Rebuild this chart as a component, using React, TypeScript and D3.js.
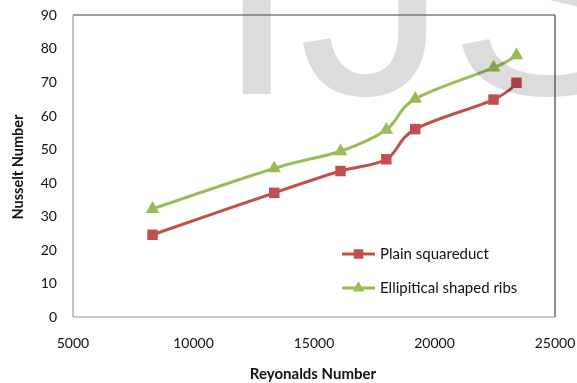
import React from "react";
import * as d3 from "d3";

// Reynolds numbers of the test runs
const reynolds = [8300, 13350, 16100, 18000, 19200, 22450, 23400];
// Nusselt numbers for each configuration
const plainDuct = [24.5, 37, 43.5, 47, 56, 64.8, 69.8];
const ellipticalRibs = [32.2, 44.3, 49.4, 55.8, 65, 74.3, 78];

const xTicks = [5000, 10000, 15000, 20000, 25000];
const yTicks = [0, 10, 20, 30, 40, 50, 60, 70, 80, 90];

const seriesNames = ["Plain squareduct", "Ellipitical shaped ribs"];
const seriesColors = ["#C0504D", "#9BBB59"];

const W = 577;
const H = 383;
const plot = { left: 73, right: 555, top: 15, bottom: 317 };
const font = "Lato, 'Open Sans', sans-serif";

export default function App() {
  const x = d3.scaleLinear().domain([5000, 25000]).range([plot.left, plot.right]);
  const y = d3.scaleLinear().domain([0, 90]).range([plot.bottom, plot.top]);

  const line = d3
    .line<[number, number]>()
    .x((d) => x(d[0]))
    .y((d) => y(d[1]))
    .curve(d3.curveCatmullRom.alpha(0));

  const series = [plainDuct, ellipticalRibs].map((vals) =>
    reynolds.map((r, i) => [r, vals[i]] as [number, number])
  );

  const square = d3.symbol().type(d3.symbolSquare).size(110)();
  const triangle = d3.symbol().type(d3.symbolTriangle).size(80)();
  const markers = [square, triangle];
  const legendMarkers = [
    d3.symbol().type(d3.symbolSquare).size(90)(),
    d3.symbol().type(d3.symbolTriangle).size(60)(),
  ];

  return (
    <svg
      width={W}
      height={H}
      style={{ position: "absolute", left: 0, top: 0, background: "#fff" }}
    >
      {/* watermark */}
      <text
        x={215}
        y={94}
        fontFamily="'Liberation Sans', Arial, sans-serif"
        fontSize={300}
        fill="#dcdcdc"
      >
        IJS
      </text>

      {/* plot frame */}
      <line x1={plot.left} x2={plot.right} y1={plot.top} y2={plot.top} stroke="#404040" strokeWidth={1.2} />
      <line x1={plot.right} x2={plot.right} y1={plot.top} y2={plot.bottom} stroke="#404040" strokeWidth={1.2} />
      <line x1={plot.left} x2={plot.left} y1={plot.top} y2={plot.bottom} stroke="#9a9a9a" strokeWidth={1.2} />
      <line x1={plot.left} x2={plot.right} y1={plot.bottom} y2={plot.bottom} stroke="#9a9a9a" strokeWidth={1.2} />

      {/* y tick labels */}
      {yTicks.map((t) => (
        <text
          key={t}
          x={57}
          y={y(t)}
          dy="0.35em"
          textAnchor="end"
          fontFamily={font}
          fontSize={14}
          fill="#111"
        >
          {t}
        </text>
      ))}

      {/* x tick labels */}
      {xTicks.map((t) => (
        <text
          key={t}
          x={x(t)}
          y={343}
          dy="0.35em"
          textAnchor="middle"
          fontFamily={font}
          fontSize={14}
          fill="#111"
        >
          {t}
        </text>
      ))}

      {/* axis titles */}
      <text
        x={313}
        y={379}
        textAnchor="middle"
        fontFamily={font}
        fontWeight="bold"
        fontSize={15}
        fill="#111"
      >
        Reyonalds Number
      </text>
      <text
        transform="translate(23,167) rotate(-90)"
        textAnchor="middle"
        fontFamily={font}
        fontWeight="bold"
        fontSize={14.5}
        fill="#111"
      >
        Nusselt Number
      </text>

      {/* series */}
      <g style={{ mixBlendMode: "multiply" }}>
        {series.map((pts, si) => (
          <g key={si}>
            <path
              d={line(pts) ?? ""}
              fill="none"
              stroke={seriesColors[si]}
              strokeWidth={3}
              strokeLinejoin="round"
            />
            {pts.map((p, i) => (
              <path
                key={i}
                d={markers[si] ?? ""}
                transform={`translate(${x(p[0])},${y(p[1])})`}
                fill={seriesColors[si]}
              />
            ))}
          </g>
        ))}
      </g>

      {/* legend */}
      {seriesNames.map((name, i) => {
        const ly = 254 + i * 34;
        return (
          <g key={name}>
            <line x1={342} x2={375} y1={ly} y2={ly} stroke={seriesColors[i]} strokeWidth={3} />
            <path
              d={legendMarkers[i] ?? ""}
              transform={`translate(358.5,${ly})`}
              fill={seriesColors[i]}
            />
            <text
              x={380}
              y={ly}
              dy="0.35em"
              fontFamily={font}
              fontSize={15}
              fill="#111"
            >
              {name}
            </text>
          </g>
        );
      })}
    </svg>
  );
}
